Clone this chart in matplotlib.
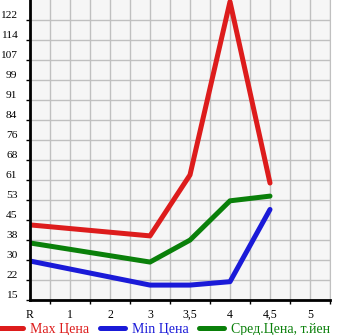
import numpy as np
import matplotlib
matplotlib.use("Agg")
import matplotlib.pyplot as plt

# Data
categories = ["R", "1", "2", "3", "3,5", "4", "4,5", "5"]
point_idx = [0, 3, 4, 5, 6]  # categories that carry values
max_price = [43.7, 39.5, 62.8, 129.0, 59.7]
min_price = [29.9, 20.7, 20.7, 22.0, 49.6]
avg_price = [36.8, 29.5, 37.9, 52.9, 54.7]
ytick_labels = ["15", "22", "30", "38", "45", "53", "61", "68", "76", "84",
                "91", "99", "107", "114", "122"]

red = "#dd1c1c"
blue = "#1a1ad8"
green = "#0a800a"

plt.rcParams["font.family"] = ["Liberation Serif", "DejaVu Serif"]

fig = plt.figure(figsize=(3.45, 3.35), dpi=100)
ax = fig.add_axes([30 / 345, 35 / 335, 300 / 345, 300 / 335])
ax.set_facecolor("#f6f6f6")

lw = 3.6
ax.plot(point_idx, max_price, color=red, lw=lw, solid_capstyle="round",
        solid_joinstyle="round", label="Max Цена")
ax.plot(point_idx, min_price, color=blue, lw=lw, solid_capstyle="round",
        solid_joinstyle="round", label="Min Цена")
ax.plot(point_idx, avg_price, color=green, lw=lw, solid_capstyle="round",
        solid_joinstyle="round", label="Сред.Цена, т.йен")

# y axis: 15 at bottom, 14 equal steps up to 122
step = (122 - 15) / 14
yticks = [15 + i * step for i in range(len(ytick_labels))]
ax.set_ylim(15, 15 + 15 * step)
ax.set_yticks(yticks)
ax.set_yticklabels(ytick_labels, fontsize=8.2, va="bottom")
ax.tick_params(axis="y", length=3, width=1, pad=6)

# x axis: labels at categories, tick marks at half steps
ax.set_xlim(0, 7.5)
ax.set_xticks(range(len(categories)))
ax.set_xticklabels(categories, fontsize=8.5, va="baseline")
ax.set_xticks(np.arange(0.5, 8, 1.0), minor=True)
ax.tick_params(axis="x", which="major", length=0, pad=13)
ax.tick_params(axis="x", which="minor", length=3, width=1)

ax.grid(True, which="both", axis="x", color="#c0c0c0", lw=1)
ax.grid(True, which="major", axis="y", color="#c0c0c0", lw=1)
ax.set_axisbelow(True)

for side in ["left", "bottom"]:
    ax.spines[side].set_linewidth(2)
    ax.spines[side].set_color("black")
ax.spines["top"].set_visible(False)
ax.spines["right"].set_color("#c0c0c0")

fig.legend(loc="center left", bbox_to_anchor=(-0.005, 6 / 335), ncol=3,
           frameon=False, fontsize=10, handlelength=1.8, handletextpad=0.5,
           columnspacing=0.75, labelcolor="linecolor", borderaxespad=0,
           borderpad=0)

fig.savefig("out.png", dpi=100)
